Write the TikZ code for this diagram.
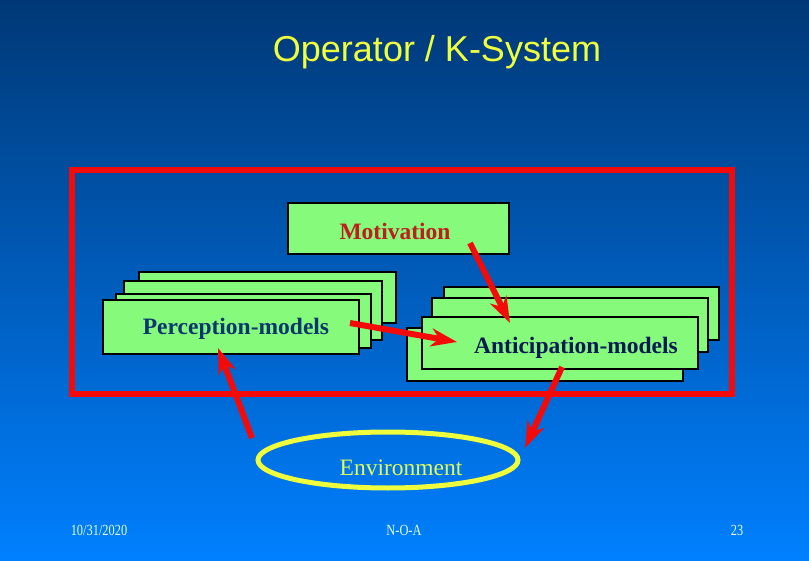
\documentclass[tikz,border=0pt]{standalone}
\usepackage{fontspec}
\setmainfont{Liberation Serif}
\newfontfamily\arialf{Liberation Sans}
\usetikzlibrary{arrows.meta}
\definecolor{bgtop}{RGB}{0,56,118}
\definecolor{bgbot}{RGB}{0,128,255}
\definecolor{boxgreen}{RGB}{134,250,122}
\definecolor{motred}{RGB}{190,30,30}
\definecolor{percblue}{RGB}{10,55,110}
\definecolor{antnavy}{RGB}{5,25,85}
\definecolor{envyel}{RGB}{225,250,90}
\definecolor{titleyel}{RGB}{240,255,60}
\definecolor{footcol}{RGB}{225,255,210}
\definecolor{frame}{RGB}{245,10,10}
\begin{document}
\begin{tikzpicture}[x=1pt,y=-1pt,
  greenbox/.style={draw=black,line width=2.4pt,fill=boxgreen,inner sep=0pt},
  boxtext/.style={font=\bfseries\fontsize{23.5}{26}\selectfont},
  redarrow/.style={draw=frame,line width=6pt,-{Stealth[length=26pt,width=18pt,inset=8pt]}},
  foot/.style={text=footcol,font=\fontsize{15.5}{18}\selectfont}]
\useasboundingbox (0,0) rectangle (809,561);
\shade[top color=bgtop,bottom color=bgbot] (0,0) rectangle (809,561);
% title
\node[text=titleyel,font=\arialf\fontsize{36}{40}\selectfont] (title) at (437,52) {Operator / K-System};
% frame
\node[draw=frame,line width=6.5pt,minimum width=660pt,minimum height=224pt] (frm) at (402,282) {};
% motivation
\node[greenbox,minimum width=221pt,minimum height=51pt] (mot) at (398.5,228.5) {};
\node[text=motred,boxtext] (mottxt) at (395,231) {Motivation};
% perception stack
\node[greenbox,minimum width=257pt,minimum height=51pt] (p3) at (267.5,297.5) {};
\node[greenbox,minimum width=258pt,minimum height=59pt] (p2) at (253,310.5) {};
\node[greenbox,minimum width=255pt,minimum height=54pt] (p1) at (243.5,321) {};
\node[greenbox,minimum width=256pt,minimum height=54pt] (perc) at (231,327) {};
\node[text=percblue,boxtext] (perctxt) at (236,329) {Perception-models};
% anticipation stack
\node[greenbox,minimum width=275pt,minimum height=53pt] (a3) at (581.5,313.5) {};
\node[greenbox,minimum width=276pt,minimum height=54pt] (a2) at (570,325) {};
\node[greenbox,minimum width=276pt,minimum height=53pt] (a1) at (545,354.5) {};
\node[greenbox,minimum width=276pt,minimum height=52pt] (ant) at (560,343) {};
\node[text=antnavy,boxtext] (anttxt) at (576,348) {Anticipation-models};
% environment
\draw[draw=titleyel,line width=5pt] (388,460) ellipse [x radius=130, y radius=28];
\node (env) at (388,460) {};
\node[text=envyel,font=\fontsize{23.5}{26}\selectfont] (envtxt) at (401,468) {Environment};
% arrow end points
\coordinate (m1) at (470,243);
\coordinate (m2) at (510,323);
\coordinate (pa1) at (350,323);
\coordinate (pa2) at (457,342);
\coordinate (ae1) at (562,367);
\coordinate (ae2) at (525,448);
\coordinate (ep1) at (252,438);
\coordinate (ep2) at (218,348);
\draw[redarrow] (m1) -- (m2);
\draw[redarrow] (pa1) -- (pa2);
\draw[redarrow] (ae1) -- (ae2);
\draw[redarrow] (ep1) -- (ep2);
% footer
\node[foot] (date) at (99,530) {\scalebox{0.8}[1]{10/31/2020}};
\node[foot] (noa) at (404,530) {\scalebox{0.8}[1]{N-O-A}};
\node[foot] (pg) at (737,530) {\scalebox{0.8}[1]{23}};
\end{tikzpicture}
\end{document}
